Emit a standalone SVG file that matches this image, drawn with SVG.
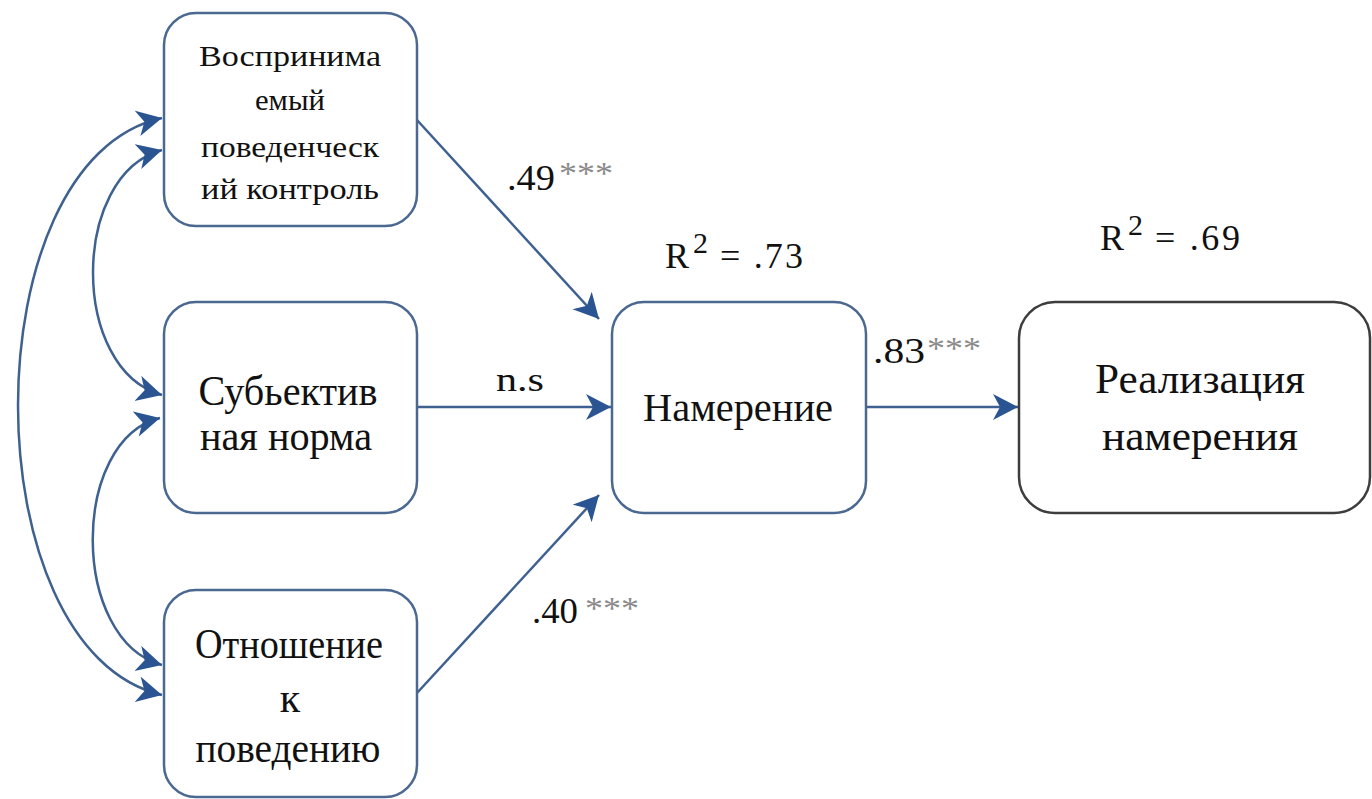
<svg xmlns="http://www.w3.org/2000/svg" width="1372" height="799" viewBox="0 0 1372 799">
<style>
.box{fill:#fff;stroke:#4a6890;stroke-width:2.5}
.box2{fill:#fff;stroke:#3d3d3d;stroke-width:2.5}
.t{font-family:"Liberation Serif","Times New Roman",serif;fill:#111;text-anchor:middle}
.lab{font-family:"Liberation Serif","Times New Roman",serif;fill:#111}
.star{font-family:"Liberation Serif","Times New Roman",serif;fill:#8a8a8a}
.con{fill:none;stroke:#3e6190;stroke-width:2.5}
</style>
<defs>
<marker id="ah" markerUnits="userSpaceOnUse" markerWidth="30" markerHeight="28" refX="25" refY="13" orient="auto-start-reverse" viewBox="0 0 30 28">
<path d="M0,0 L25,13 L0,26 L7,13 z" fill="#2b5592"/>
</marker>
</defs>
<rect width="1372" height="799" fill="#fff"/>
<g id="connectors">
<line class="con" x1="417" y1="120" x2="599" y2="319" marker-end="url(#ah)"/>
<line class="con" x1="417" y1="407" x2="611" y2="407" marker-end="url(#ah)"/>
<line class="con" x1="417" y1="693" x2="599" y2="495" marker-end="url(#ah)"/>
<line class="con" x1="866" y1="407" x2="1018" y2="407" marker-end="url(#ah)"/>
<path class="con" d="M162,118 C-30,160 -30,650 162,695" marker-start="url(#ah)" marker-end="url(#ah)"/>
<path class="con" d="M162,150 C70,175 70,370 162,395" marker-start="url(#ah)" marker-end="url(#ah)"/>
<path class="con" d="M160,418 C70,440 70,640 162,665" marker-start="url(#ah)" marker-end="url(#ah)"/>
</g>
<g id="labels">
<text class="lab" x="507" y="190" font-size="36" textLength="48" lengthAdjust="spacingAndGlyphs">.49</text>
<text class="star" x="559" y="184" font-size="32" textLength="54" lengthAdjust="spacingAndGlyphs">***</text>
<text class="lab" x="496" y="391" font-size="34" textLength="48" lengthAdjust="spacingAndGlyphs">n.s</text>
<text class="lab" x="532" y="623" font-size="36" textLength="46" lengthAdjust="spacingAndGlyphs">.40</text>
<text class="star" x="585" y="619" font-size="32" textLength="54" lengthAdjust="spacingAndGlyphs">***</text>
<text class="lab" x="873" y="363" font-size="36" textLength="52" lengthAdjust="spacingAndGlyphs">.83</text>
<text class="star" x="927" y="359" font-size="32" textLength="54" lengthAdjust="spacingAndGlyphs">***</text>
<text class="lab" x="665" y="268" font-size="36">R</text>
<text class="lab" x="693" y="253" font-size="30">2</text>
<text class="lab" x="720" y="268" font-size="36" textLength="83" lengthAdjust="spacing">= .73</text>
<text class="lab" x="1100" y="250" font-size="36">R</text>
<text class="lab" x="1128" y="235" font-size="30">2</text>
<text class="lab" x="1155" y="250" font-size="36" textLength="85" lengthAdjust="spacing">= .69</text>
</g>
<g id="node-control">
<rect class="box" x="164" y="13" width="253" height="213" rx="32"/>
<text class="t" x="290" y="66" font-size="30" textLength="182" lengthAdjust="spacingAndGlyphs">Воспринима</text>
<text class="t" x="290" y="110" font-size="30" textLength="70" lengthAdjust="spacingAndGlyphs">емый</text>
<text class="t" x="290" y="157" font-size="30" textLength="178" lengthAdjust="spacingAndGlyphs">поведенческ</text>
<text class="t" x="290" y="199" font-size="30" textLength="178" lengthAdjust="spacingAndGlyphs">ий контроль</text>
</g>
<g id="node-norm">
<rect class="box" x="164" y="302" width="253" height="211" rx="32"/>
<text class="t" x="288" y="405" font-size="42" textLength="179" lengthAdjust="spacingAndGlyphs">Субьектив</text>
<text class="t" x="286" y="450" font-size="42" textLength="172" lengthAdjust="spacingAndGlyphs">ная норма</text>
</g>
<g id="node-attitude">
<rect class="box" x="164" y="590" width="253" height="207" rx="32"/>
<text class="t" x="289" y="658" font-size="42" textLength="188" lengthAdjust="spacingAndGlyphs">Отношение</text>
<text class="t" x="290" y="712" font-size="42">к</text>
<text class="t" x="288" y="762" font-size="42" textLength="185" lengthAdjust="spacingAndGlyphs">поведению</text>
</g>
<g id="node-intention">
<rect class="box" x="612" y="302" width="254" height="211" rx="32"/>
<text class="t" x="738" y="421" font-size="40" textLength="190" lengthAdjust="spacingAndGlyphs">Намерение</text>
</g>
<g id="node-realization">
<rect class="box2" x="1019" y="302" width="351" height="211" rx="36"/>
<text class="t" x="1200" y="393" font-size="42" textLength="210" lengthAdjust="spacingAndGlyphs">Реализация</text>
<text class="t" x="1200" y="450" font-size="42" textLength="196" lengthAdjust="spacingAndGlyphs">намерения</text>
</g>
</svg>
